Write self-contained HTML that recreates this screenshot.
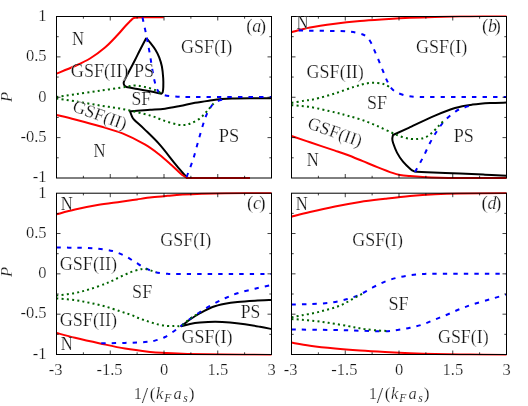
<!DOCTYPE html>
<html><head><meta charset="utf-8"><title>Phase diagram</title>
<style>
html,body{margin:0;padding:0;background:#fff;}
body{width:528px;height:406px;overflow:hidden;font-family:"Liberation Serif",serif;}
svg{display:block;position:absolute;left:0;top:0;}
svg.tx{will-change:transform;}
text{font-family:"Liberation Serif",serif;fill:#141414;stroke:#fff;stroke-width:0.22px;}
</style></head><body>
<svg width="528" height="406" viewBox="0 0 528 406">
<rect width="528" height="406" fill="#fff"/>
<clipPath id="c0"><rect x="56.0" y="15.50" width="216.0" height="163.50"/></clipPath>
<clipPath id="c1"><rect x="291.0" y="15.50" width="216.0" height="163.50"/></clipPath>
<clipPath id="c2"><rect x="56.0" y="192.20" width="216.0" height="163.30"/></clipPath>
<clipPath id="c3"><rect x="291.0" y="192.20" width="216.0" height="163.30"/></clipPath>
<path d="M146.25,38.00 C145.21,40.00 141.88,46.33 140.00,50.00 C138.12,53.67 136.83,56.42 135.00,60.00 C133.17,63.58 130.60,68.42 129.00,71.50 C127.40,74.58 126.28,76.67 125.40,78.50 C124.52,80.33 123.88,81.37 123.70,82.50 C123.52,83.63 123.82,84.55 124.30,85.30 C124.78,86.05 125.48,86.58 126.60,87.00 C127.72,87.42 129.18,87.48 131.00,87.80 C132.82,88.12 134.33,88.32 137.50,88.90 C140.67,89.48 146.05,90.50 150.00,91.30 C153.95,92.10 159.33,93.30 161.20,93.70 C161.45,93.45 162.35,93.32 162.70,92.20 C163.05,91.08 163.22,89.37 163.30,87.00 C163.38,84.63 163.43,81.42 163.20,78.00 C162.97,74.58 162.57,69.95 161.90,66.50 C161.23,63.05 160.28,60.10 159.20,57.30 C158.12,54.50 156.83,52.05 155.40,49.70 C153.97,47.35 152.12,45.15 150.60,43.20 C149.07,41.25 146.97,38.87 146.25,38.00" fill="none" stroke="#000000" stroke-width="2" stroke-linejoin="round" clip-path="url(#c0)"/>
<path d="M271.50,98.20 C267.92,98.20 256.58,98.17 250.00,98.20 C243.42,98.23 236.67,98.27 232.00,98.40 C227.33,98.53 225.67,98.65 222.00,99.00 C218.33,99.35 214.50,99.87 210.00,100.50 C205.50,101.13 200.00,101.88 195.00,102.80 C190.00,103.72 185.00,105.02 180.00,106.00 C175.00,106.98 170.00,108.07 165.00,108.70 C160.00,109.33 154.67,109.47 150.00,109.80 C145.33,110.13 140.33,110.45 137.00,110.70 C133.67,110.95 131.17,111.20 130.00,111.30 C130.33,112.17 131.27,115.05 132.00,116.50 C132.73,117.95 132.27,117.82 134.40,120.00 C136.53,122.18 140.62,125.53 144.80,129.60 C148.98,133.67 154.58,138.87 159.50,144.40 C164.42,149.93 170.55,158.20 174.30,162.80 C178.05,167.40 179.97,169.63 182.00,172.00 C184.03,174.37 185.75,176.17 186.50,177.00" fill="none" stroke="#000000" stroke-width="2" stroke-linejoin="round" clip-path="url(#c0)"/>
<path d="M506.50,102.60 C503.75,102.67 495.67,102.67 490.00,103.00 C484.33,103.33 478.33,103.77 472.50,104.60 C466.67,105.43 461.25,106.17 455.00,108.00 C448.75,109.83 442.50,112.40 435.00,115.60 C427.50,118.80 417.00,123.97 410.00,127.20 C403.00,130.43 395.83,133.70 393.00,135.00 C392.88,135.67 392.27,137.63 392.30,139.00 C392.33,140.37 392.42,140.93 393.20,143.20 C393.98,145.47 395.37,149.52 397.00,152.60 C398.63,155.68 400.73,158.93 403.00,161.70 C405.27,164.47 408.70,167.57 410.60,169.20 C412.50,170.83 413.77,171.12 414.40,171.50 C416.50,171.63 419.40,171.95 427.00,172.30 C434.60,172.65 450.33,173.20 460.00,173.60 C469.67,174.00 477.25,174.35 485.00,174.70 C492.75,175.05 502.92,175.53 506.50,175.70" fill="none" stroke="#000000" stroke-width="2" stroke-linejoin="round" clip-path="url(#c1)"/>
<path d="M271.50,300.00 C268.75,300.12 260.67,300.42 255.00,300.75 C249.33,301.08 242.50,301.50 237.50,302.00 C232.50,302.50 229.17,302.92 225.00,303.75 C220.83,304.58 216.67,305.42 212.50,307.00 C208.33,308.58 203.75,311.17 200.00,313.25 C196.25,315.33 193.12,317.33 190.00,319.50 C186.88,321.67 182.71,325.12 181.25,326.25 C182.71,325.88 186.88,324.61 190.00,324.00 C193.12,323.39 195.83,322.97 200.00,322.60 C204.17,322.23 210.00,321.82 215.00,321.80 C220.00,321.78 225.00,322.08 230.00,322.50 C235.00,322.92 240.00,323.58 245.00,324.30 C250.00,325.02 255.58,326.02 260.00,326.80 C264.42,327.58 269.58,328.63 271.50,329.00" fill="none" stroke="#000000" stroke-width="2" stroke-linejoin="round" clip-path="url(#c2)"/>
<path d="M56.50,73.60 C59.58,72.33 69.42,68.52 75.00,66.00 C80.58,63.48 85.00,61.58 90.00,58.50 C95.00,55.42 100.42,51.42 105.00,47.50 C109.58,43.58 114.17,38.50 117.50,35.00 C120.83,31.50 122.83,28.87 125.00,26.50 C127.17,24.13 129.58,21.75 130.50,20.80 C131.00,20.37 132.33,18.77 133.50,18.20 C134.67,17.63 135.58,17.57 137.50,17.40 C139.42,17.23 140.62,17.23 145.00,17.20 C149.38,17.17 160.62,17.20 163.75,17.20" fill="none" stroke="#ff0000" stroke-width="2" stroke-linejoin="round" clip-path="url(#c0)"/>
<path d="M56.50,115.00 C59.58,115.75 67.75,117.62 75.00,119.50 C82.25,121.38 92.08,123.93 100.00,126.25 C107.92,128.57 115.03,130.38 122.50,133.40 C129.97,136.43 138.63,140.85 144.80,144.40 C150.97,147.95 155.07,151.27 159.50,154.70 C163.93,158.13 167.95,161.92 171.40,165.00 C174.85,168.08 178.00,171.27 180.20,173.20 C182.40,175.13 183.87,176.03 184.60,176.60 C185.17,176.80 186.77,177.57 188.00,177.80 C189.23,178.03 181.67,177.97 192.00,178.00 C202.33,178.03 240.33,178.00 250.00,178.00" fill="none" stroke="#ff0000" stroke-width="2" stroke-linejoin="round" clip-path="url(#c0)"/>
<path d="M291.50,32.20 C294.58,31.42 302.75,28.91 310.00,27.50 C317.25,26.09 326.67,24.82 335.00,23.75 C343.33,22.68 351.67,21.84 360.00,21.10 C368.33,20.36 376.67,19.85 385.00,19.30 C393.33,18.75 401.67,18.20 410.00,17.80 C418.33,17.40 425.00,17.17 435.00,16.90 C445.00,16.63 458.08,16.37 470.00,16.20 C481.92,16.03 500.42,15.95 506.50,15.90" fill="none" stroke="#ff0000" stroke-width="2" stroke-linejoin="round" clip-path="url(#c1)"/>
<path d="M291.50,136.00 C294.58,137.05 302.75,139.87 310.00,142.30 C317.25,144.73 328.83,148.52 335.00,150.60 C341.17,152.68 342.47,153.08 347.00,154.80 C351.53,156.52 357.15,158.85 362.20,160.90 C367.25,162.95 372.25,165.10 377.30,167.10 C382.35,169.10 388.72,171.60 392.50,172.90 C396.28,174.20 397.08,174.37 400.00,174.90 C402.92,175.43 406.25,175.73 410.00,176.10 C413.75,176.47 417.50,176.82 422.50,177.10 C427.50,177.38 433.75,177.65 440.00,177.80 C446.25,177.95 448.92,177.97 460.00,178.00 C471.08,178.03 498.75,178.00 506.50,178.00" fill="none" stroke="#ff0000" stroke-width="2" stroke-linejoin="round" clip-path="url(#c1)"/>
<path d="M56.50,214.40 C59.58,213.60 68.17,211.15 75.00,209.60 C81.83,208.05 89.83,206.40 97.50,205.10 C105.17,203.80 114.42,202.75 121.00,201.80 C127.58,200.85 131.83,200.15 137.00,199.40 C142.17,198.65 146.92,197.90 152.00,197.30 C157.08,196.70 162.40,196.25 167.50,195.80 C172.60,195.35 176.85,194.95 182.60,194.60 C188.35,194.25 194.93,193.93 202.00,193.70 C209.07,193.47 213.42,193.32 225.00,193.20 C236.58,193.08 263.75,193.03 271.50,193.00" fill="none" stroke="#ff0000" stroke-width="2" stroke-linejoin="round" clip-path="url(#c2)"/>
<path d="M56.50,333.00 C59.58,333.79 67.75,336.02 75.00,337.75 C82.25,339.48 91.67,341.59 100.00,343.40 C108.33,345.21 116.67,347.18 125.00,348.60 C133.33,350.02 143.33,351.17 150.00,351.90 C156.67,352.63 158.75,352.65 165.00,353.00 C171.25,353.35 177.50,353.73 187.50,354.00 C197.50,354.27 211.00,354.45 225.00,354.60 C239.00,354.75 263.75,354.85 271.50,354.90" fill="none" stroke="#ff0000" stroke-width="2" stroke-linejoin="round" clip-path="url(#c2)"/>
<path d="M291.50,216.70 C294.58,215.92 302.75,213.70 310.00,212.00 C317.25,210.30 326.67,208.17 335.00,206.50 C343.33,204.83 351.67,203.28 360.00,202.00 C368.33,200.72 376.67,199.80 385.00,198.80 C393.33,197.80 401.67,196.77 410.00,196.00 C418.33,195.23 426.67,194.63 435.00,194.20 C443.33,193.77 448.08,193.60 460.00,193.40 C471.92,193.20 498.75,193.07 506.50,193.00" fill="none" stroke="#ff0000" stroke-width="2" stroke-linejoin="round" clip-path="url(#c3)"/>
<path d="M291.50,342.60 C294.58,343.12 302.75,344.72 310.00,345.70 C317.25,346.68 326.67,347.70 335.00,348.50 C343.33,349.30 351.67,349.92 360.00,350.50 C368.33,351.08 376.67,351.55 385.00,352.00 C393.33,352.45 401.67,352.87 410.00,353.20 C418.33,353.53 425.00,353.77 435.00,354.00 C445.00,354.23 458.08,354.45 470.00,354.60 C481.92,354.75 500.42,354.85 506.50,354.90" fill="none" stroke="#ff0000" stroke-width="2" stroke-linejoin="round" clip-path="url(#c3)"/>
<path d="M142.50,17.50 C143.12,20.42 145.00,28.75 146.25,35.00 C147.50,41.25 148.75,47.92 150.00,55.00 C151.25,62.08 152.50,71.67 153.75,77.50 C155.00,83.33 156.04,87.17 157.50,90.00 C158.96,92.83 159.58,93.42 162.50,94.50 C165.42,95.58 168.75,96.08 175.00,96.50 C181.25,96.92 183.92,96.92 200.00,97.00 C216.08,97.08 259.58,97.00 271.50,97.00" fill="none" stroke="#0000ff" stroke-width="2" stroke-linejoin="round" stroke-dasharray="4.4 6.05" clip-path="url(#c0)"/>
<path d="M186.60,177.00 C187.65,174.17 191.02,165.75 192.90,160.00 C194.78,154.25 196.22,148.38 197.90,142.50 C199.58,136.62 201.52,129.43 203.00,124.70 C204.48,119.97 205.53,117.00 206.80,114.10 C208.07,111.20 209.47,109.07 210.60,107.30 C211.73,105.53 212.33,104.57 213.60,103.50 C214.87,102.43 216.72,101.57 218.20,100.90 C219.68,100.23 221.78,99.73 222.50,99.50" fill="none" stroke="#0000ff" stroke-width="2" stroke-linejoin="round" stroke-dasharray="4.4 6.05" clip-path="url(#c0)"/>
<path d="M298.75,30.50 C302.29,30.55 311.88,30.65 320.00,30.80 C328.12,30.95 340.83,30.92 347.50,31.40 C354.17,31.88 356.92,32.88 360.00,33.70 C363.08,34.52 364.25,34.95 366.00,36.30 C367.75,37.65 369.12,39.50 370.50,41.80 C371.88,44.10 372.92,46.95 374.30,50.10 C375.68,53.25 377.28,57.05 378.80,60.70 C380.32,64.35 382.00,68.60 383.40,72.00 C384.80,75.40 385.82,78.32 387.20,81.10 C388.58,83.88 389.98,86.75 391.70,88.70 C393.42,90.65 394.87,91.60 397.50,92.80 C400.13,94.00 403.75,95.22 407.50,95.90 C411.25,96.58 412.92,96.72 420.00,96.90 C427.08,97.08 435.58,96.98 450.00,97.00 C464.42,97.02 497.08,97.00 506.50,97.00" fill="none" stroke="#0000ff" stroke-width="2" stroke-linejoin="round" stroke-dasharray="4.4 6.05" clip-path="url(#c1)"/>
<path d="M415.00,172.00 C416.33,169.58 420.47,162.42 423.00,157.50 C425.53,152.58 427.78,147.03 430.20,142.50 C432.62,137.97 435.03,134.00 437.50,130.30 C439.97,126.60 441.95,123.47 445.00,120.30 C448.05,117.13 452.47,113.47 455.80,111.30 C459.13,109.13 461.97,108.38 465.00,107.30 C468.03,106.22 472.50,105.22 474.00,104.80" fill="none" stroke="#0000ff" stroke-width="2" stroke-linejoin="round" stroke-dasharray="4.4 6.05" clip-path="url(#c1)"/>
<path d="M56.50,247.50 C59.58,247.54 68.58,247.60 75.00,247.75 C81.42,247.90 88.75,247.86 95.00,248.40 C101.25,248.94 107.50,249.73 112.50,251.00 C117.50,252.27 121.25,254.17 125.00,256.00 C128.75,257.83 131.67,260.00 135.00,262.00 C138.33,264.00 141.67,266.33 145.00,268.00 C148.33,269.67 151.25,271.04 155.00,272.00 C158.75,272.96 163.33,273.42 167.50,273.75 C171.67,274.08 162.67,273.96 180.00,274.00 C197.33,274.04 256.25,274.00 271.50,274.00" fill="none" stroke="#0000ff" stroke-width="2" stroke-linejoin="round" stroke-dasharray="4.4 6.05" clip-path="url(#c2)"/>
<path d="M101.25,343.25 C105.21,343.19 117.71,343.11 125.00,342.90 C132.29,342.69 140.00,342.38 145.00,342.00 C150.00,341.62 151.67,341.43 155.00,340.60 C158.33,339.77 161.67,338.68 165.00,337.00 C168.33,335.32 172.29,332.38 175.00,330.50 C177.71,328.62 178.72,327.70 181.25,325.75 C183.78,323.80 187.07,321.09 190.20,318.80 C193.32,316.51 196.28,314.38 200.00,312.00 C203.72,309.62 208.33,306.79 212.50,304.50 C216.67,302.21 220.83,300.12 225.00,298.25 C229.17,296.38 232.50,294.84 237.50,293.25 C242.50,291.66 249.33,290.07 255.00,288.70 C260.67,287.32 268.75,285.62 271.50,285.00" fill="none" stroke="#0000ff" stroke-width="2" stroke-linejoin="round" stroke-dasharray="4.4 6.05" clip-path="url(#c2)"/>
<path d="M291.50,304.50 C294.58,304.42 303.58,304.29 310.00,304.00 C316.42,303.71 323.75,303.58 330.00,302.75 C336.25,301.92 342.50,300.38 347.50,299.00 C352.50,297.62 355.83,296.40 360.00,294.50 C364.17,292.60 368.33,289.75 372.50,287.60 C376.67,285.45 380.83,283.27 385.00,281.60 C389.17,279.93 393.33,278.65 397.50,277.60 C401.67,276.55 405.83,275.88 410.00,275.30 C414.17,274.72 418.33,274.36 422.50,274.10 C426.67,273.84 421.00,273.81 435.00,273.75 C449.00,273.69 494.58,273.75 506.50,273.75" fill="none" stroke="#0000ff" stroke-width="2" stroke-linejoin="round" stroke-dasharray="4.4 6.05" clip-path="url(#c3)"/>
<path d="M291.50,329.50 C298.75,329.58 323.58,329.79 335.00,330.00 C346.42,330.21 351.67,330.54 360.00,330.75 C368.33,330.96 378.75,331.38 385.00,331.25 C391.25,331.12 393.33,330.58 397.50,330.00 C401.67,329.42 405.83,328.67 410.00,327.75 C414.17,326.83 418.33,325.88 422.50,324.50 C426.67,323.12 430.83,321.17 435.00,319.50 C439.17,317.83 443.33,316.25 447.50,314.50 C451.67,312.75 455.83,310.67 460.00,309.00 C464.17,307.33 467.50,306.12 472.50,304.50 C477.50,302.88 484.33,300.97 490.00,299.30 C495.67,297.63 503.75,295.30 506.50,294.50" fill="none" stroke="#0000ff" stroke-width="2" stroke-linejoin="round" stroke-dasharray="4.4 6.05" clip-path="url(#c3)"/>
<path d="M56.50,97.00 C59.58,96.55 67.75,95.35 75.00,94.30 C82.25,93.25 91.67,91.92 100.00,90.70 C108.33,89.48 119.17,87.87 125.00,87.00 C130.83,86.13 131.67,85.50 135.00,85.50 C138.33,85.50 141.67,86.25 145.00,87.00 C148.33,87.75 152.33,88.95 155.00,90.00 C157.67,91.05 160.00,92.75 161.00,93.30" fill="none" stroke="#006400" stroke-width="2" stroke-linejoin="round" stroke-dasharray="2 3.2" clip-path="url(#c0)"/>
<path d="M56.50,98.50 C59.58,98.96 67.75,100.08 75.00,101.25 C82.25,102.42 91.67,104.12 100.00,105.50 C108.33,106.88 116.67,107.83 125.00,109.50 C133.33,111.17 143.33,113.58 150.00,115.50 C156.67,117.42 160.42,119.50 165.00,121.00 C169.58,122.50 174.17,123.85 177.50,124.50 C180.83,125.15 182.75,125.12 185.00,124.90 C187.25,124.68 188.75,124.12 191.00,123.20 C193.25,122.28 196.25,120.92 198.50,119.40 C200.75,117.88 202.75,115.87 204.50,114.10 C206.25,112.33 207.48,110.57 209.00,108.80 C210.52,107.03 212.83,104.38 213.60,103.50" fill="none" stroke="#006400" stroke-width="2" stroke-linejoin="round" stroke-dasharray="2 3.2" clip-path="url(#c0)"/>
<path d="M291.50,102.90 C293.67,102.53 300.58,101.35 304.50,100.70 C308.42,100.05 309.92,100.22 315.00,99.00 C320.08,97.78 328.42,95.45 335.00,93.40 C341.58,91.35 349.08,88.38 354.50,86.70 C359.92,85.02 363.67,83.92 367.50,83.30 C371.33,82.68 374.58,82.78 377.50,83.00 C380.42,83.22 382.72,83.75 385.00,84.60 C387.28,85.45 390.17,87.52 391.20,88.10" fill="none" stroke="#006400" stroke-width="2" stroke-linejoin="round" stroke-dasharray="2 3.2" clip-path="url(#c1)"/>
<path d="M291.50,105.20 C294.58,105.50 302.75,105.80 310.00,107.00 C317.25,108.20 328.73,110.95 335.00,112.40 C341.27,113.85 343.07,114.43 347.60,115.70 C352.13,116.97 357.25,118.28 362.20,120.00 C367.15,121.72 372.25,123.83 377.30,126.00 C382.35,128.17 388.47,131.22 392.50,133.00 C396.53,134.78 398.48,135.72 401.50,136.70 C404.52,137.68 407.82,138.53 410.60,138.90 C413.38,139.27 415.72,139.15 418.20,138.90 C420.68,138.65 423.03,138.58 425.50,137.40 C427.97,136.22 430.70,133.82 433.00,131.80 C435.30,129.78 437.63,127.02 439.30,125.30 C440.97,123.58 442.38,122.13 443.00,121.50" fill="none" stroke="#006400" stroke-width="2" stroke-linejoin="round" stroke-dasharray="2 3.2" clip-path="url(#c1)"/>
<path d="M56.50,295.60 C59.58,295.17 69.42,294.08 75.00,293.00 C80.58,291.92 85.00,290.62 90.00,289.10 C95.00,287.58 101.33,285.27 105.00,283.90 C108.67,282.53 109.33,282.13 112.00,280.90 C114.67,279.67 117.97,277.92 121.00,276.50 C124.03,275.08 127.15,273.55 130.20,272.40 C133.25,271.25 136.78,270.18 139.30,269.60 C141.82,269.02 143.28,268.73 145.30,268.90 C147.32,269.07 149.62,270.05 151.40,270.60 C153.18,271.15 155.23,271.93 156.00,272.20" fill="none" stroke="#006400" stroke-width="2" stroke-linejoin="round" stroke-dasharray="2 3.2" clip-path="url(#c2)"/>
<path d="M56.50,298.40 C59.58,298.70 69.42,299.45 75.00,300.20 C80.58,300.95 85.00,301.87 90.00,302.90 C95.00,303.93 99.97,305.00 105.00,306.40 C110.03,307.80 115.87,309.88 120.20,311.30 C124.53,312.72 127.67,313.67 131.00,314.90 C134.33,316.13 137.15,317.55 140.20,318.70 C143.25,319.85 146.27,320.83 149.30,321.80 C152.33,322.77 155.37,323.80 158.40,324.50 C161.43,325.20 164.73,325.77 167.50,326.00 C170.27,326.23 172.71,325.97 175.00,325.90 C177.29,325.83 178.75,326.78 181.25,325.60 C183.75,324.42 186.88,320.97 190.00,318.80 C193.12,316.63 198.33,313.63 200.00,312.60" fill="none" stroke="#006400" stroke-width="2" stroke-linejoin="round" stroke-dasharray="2 3.2" clip-path="url(#c2)"/>
<path d="M291.50,317.30 C293.28,316.95 298.40,315.92 302.20,315.20 C306.00,314.48 310.52,313.82 314.30,313.00 C318.08,312.18 321.37,311.25 324.90,310.30 C328.43,309.35 332.22,308.43 335.50,307.30 C338.78,306.17 341.57,305.00 344.60,303.50 C347.63,302.00 350.67,299.95 353.70,298.30 C356.73,296.65 361.28,294.38 362.80,293.60" fill="none" stroke="#006400" stroke-width="2" stroke-linejoin="round" stroke-dasharray="2 3.2" clip-path="url(#c3)"/>
<path d="M291.50,319.00 C293.28,319.13 298.40,319.48 302.20,319.80 C306.00,320.12 310.52,320.48 314.30,320.90 C318.08,321.32 321.37,321.80 324.90,322.30 C328.43,322.80 331.72,323.28 335.50,323.90 C339.28,324.52 344.07,325.37 347.60,326.00 C351.13,326.63 353.67,327.17 356.70,327.70 C359.73,328.23 362.25,328.73 365.80,329.20 C369.35,329.67 374.30,330.20 378.00,330.50 C381.70,330.80 386.33,330.92 388.00,331.00" fill="none" stroke="#006400" stroke-width="2" stroke-linejoin="round" stroke-dasharray="2 3.2" clip-path="url(#c3)"/>
<rect x="56.5" y="16.5" width="215.0" height="161.5" fill="none" stroke="#000" stroke-width="1"/>
<path d="M83.38,16.5 v2.2 M83.38,178.0 v-2.2 M110.25,16.5 v4 M110.25,178.0 v-4 M137.12,16.5 v2.2 M137.12,178.0 v-2.2 M164.00,16.5 v4 M164.00,178.0 v-4 M190.88,16.5 v2.2 M190.88,178.0 v-2.2 M217.75,16.5 v4 M217.75,178.0 v-4 M244.62,16.5 v2.2 M244.62,178.0 v-2.2 M56.5,36.69 h2.2 M271.5,36.69 h-2.2 M56.5,56.88 h4 M271.5,56.88 h-4 M56.5,77.06 h2.2 M271.5,77.06 h-2.2 M56.5,97.25 h4 M271.5,97.25 h-4 M56.5,117.44 h2.2 M271.5,117.44 h-2.2 M56.5,137.62 h4 M271.5,137.62 h-4 M56.5,157.81 h2.2 M271.5,157.81 h-2.2" stroke="#000" stroke-width="0.75" fill="none"/>
<rect x="291.5" y="16.5" width="215.0" height="161.5" fill="none" stroke="#000" stroke-width="1"/>
<path d="M318.38,16.5 v2.2 M318.38,178.0 v-2.2 M345.25,16.5 v4 M345.25,178.0 v-4 M372.12,16.5 v2.2 M372.12,178.0 v-2.2 M399.00,16.5 v4 M399.00,178.0 v-4 M425.88,16.5 v2.2 M425.88,178.0 v-2.2 M452.75,16.5 v4 M452.75,178.0 v-4 M479.62,16.5 v2.2 M479.62,178.0 v-2.2 M291.5,36.69 h2.2 M506.5,36.69 h-2.2 M291.5,56.88 h4 M506.5,56.88 h-4 M291.5,77.06 h2.2 M506.5,77.06 h-2.2 M291.5,97.25 h4 M506.5,97.25 h-4 M291.5,117.44 h2.2 M506.5,117.44 h-2.2 M291.5,137.62 h4 M506.5,137.62 h-4 M291.5,157.81 h2.2 M506.5,157.81 h-2.2" stroke="#000" stroke-width="0.75" fill="none"/>
<rect x="56.5" y="193.2" width="215.0" height="161.3" fill="none" stroke="#000" stroke-width="1"/>
<path d="M83.38,193.2 v2.2 M83.38,354.5 v-2.2 M110.25,193.2 v4 M110.25,354.5 v-4 M137.12,193.2 v2.2 M137.12,354.5 v-2.2 M164.00,193.2 v4 M164.00,354.5 v-4 M190.88,193.2 v2.2 M190.88,354.5 v-2.2 M217.75,193.2 v4 M217.75,354.5 v-4 M244.62,193.2 v2.2 M244.62,354.5 v-2.2 M56.5,213.36 h2.2 M271.5,213.36 h-2.2 M56.5,233.52 h4 M271.5,233.52 h-4 M56.5,253.69 h2.2 M271.5,253.69 h-2.2 M56.5,273.85 h4 M271.5,273.85 h-4 M56.5,294.01 h2.2 M271.5,294.01 h-2.2 M56.5,314.18 h4 M271.5,314.18 h-4 M56.5,334.34 h2.2 M271.5,334.34 h-2.2" stroke="#000" stroke-width="0.75" fill="none"/>
<rect x="291.5" y="193.2" width="215.0" height="161.3" fill="none" stroke="#000" stroke-width="1"/>
<path d="M318.38,193.2 v2.2 M318.38,354.5 v-2.2 M345.25,193.2 v4 M345.25,354.5 v-4 M372.12,193.2 v2.2 M372.12,354.5 v-2.2 M399.00,193.2 v4 M399.00,354.5 v-4 M425.88,193.2 v2.2 M425.88,354.5 v-2.2 M452.75,193.2 v4 M452.75,354.5 v-4 M479.62,193.2 v2.2 M479.62,354.5 v-2.2 M291.5,213.36 h2.2 M506.5,213.36 h-2.2 M291.5,233.52 h4 M506.5,233.52 h-4 M291.5,253.69 h2.2 M506.5,253.69 h-2.2 M291.5,273.85 h4 M506.5,273.85 h-4 M291.5,294.01 h2.2 M506.5,294.01 h-2.2 M291.5,314.18 h4 M506.5,314.18 h-4 M291.5,334.34 h2.2 M506.5,334.34 h-2.2" stroke="#000" stroke-width="0.75" fill="none"/>
</svg>
<svg class="tx" width="528" height="406" viewBox="0 0 528 406">
<text x="46.6" y="21.1" font-size="16.5" text-anchor="end">1</text>
<text x="46.6" y="61.4" font-size="16.5" text-anchor="end">0.5</text>
<text x="46.6" y="101.6" font-size="16.5" text-anchor="end">0</text>
<text x="46.6" y="141.8" font-size="16.5" text-anchor="end">-0.5</text>
<text x="46.6" y="182.1" font-size="16.5" text-anchor="end">-1</text>
<text x="46.6" y="197.6" font-size="16.5" text-anchor="end">1</text>
<text x="46.6" y="237.8" font-size="16.5" text-anchor="end">0.5</text>
<text x="46.6" y="278.1" font-size="16.5" text-anchor="end">0</text>
<text x="46.6" y="318.4" font-size="16.5" text-anchor="end">-0.5</text>
<text x="46.6" y="358.6" font-size="16.5" text-anchor="end">-1</text>
<text x="55.7" y="375.1" font-size="16.5" text-anchor="middle">-3</text>
<text x="109.5" y="375.1" font-size="16.5" text-anchor="middle">-1.5</text>
<text x="164.2" y="375.1" font-size="16.5" text-anchor="middle">0</text>
<text x="217.9" y="375.1" font-size="16.5" text-anchor="middle">1.5</text>
<text x="271.7" y="375.1" font-size="16.5" text-anchor="middle">3</text>
<text x="290.7" y="375.1" font-size="16.5" text-anchor="middle">-3</text>
<text x="344.4" y="375.1" font-size="16.5" text-anchor="middle">-1.5</text>
<text x="399.2" y="375.1" font-size="16.5" text-anchor="middle">0</text>
<text x="452.9" y="375.1" font-size="16.5" text-anchor="middle">1.5</text>
<text x="506.7" y="375.1" font-size="16.5" text-anchor="middle">3</text>
<text x="11.8" y="97" font-size="16.5" text-anchor="middle" transform="rotate(-90 11.8 97)" font-style="italic">P</text>
<text x="11.8" y="272" font-size="16.5" text-anchor="middle" transform="rotate(-90 11.8 272)" font-style="italic">P</text>
<text font-size="16.5" y="398.9"><tspan x="133.7">1</tspan><tspan x="141.7" y="402.5" font-size="23">/</tspan><tspan x="149.7" y="399.4" font-size="17.3">(</tspan><tspan x="155.9" y="398.9" font-style="italic">k</tspan><tspan x="164.3" y="402.09999999999997" font-size="11.5" font-style="italic" stroke-width="0.1">F</tspan><tspan x="173.6" y="398.9" font-style="italic">a</tspan><tspan x="183.2" y="402.09999999999997" font-size="11.5" font-style="italic" stroke-width="0.1">s</tspan><tspan x="188.7" y="399.4" font-size="17.3">)</tspan></text>
<text font-size="16.5" y="398.9"><tspan x="368.7">1</tspan><tspan x="376.7" y="402.5" font-size="23">/</tspan><tspan x="384.7" y="399.4" font-size="17.3">(</tspan><tspan x="390.9" y="398.9" font-style="italic">k</tspan><tspan x="399.3" y="402.09999999999997" font-size="11.5" font-style="italic" stroke-width="0.1">F</tspan><tspan x="408.6" y="398.9" font-style="italic">a</tspan><tspan x="418.2" y="402.09999999999997" font-size="11.5" font-style="italic" stroke-width="0.1">s</tspan><tspan x="423.7" y="399.4" font-size="17.3">)</tspan></text>
<text y="32.3"><tspan x="246.2" font-size="19">(</tspan><tspan x="252.2" font-size="18" font-style="italic">a</tspan><tspan x="259.8" font-size="19">)</tspan></text>
<text y="32.3"><tspan x="482.0" font-size="19">(</tspan><tspan x="488.0" font-size="18" font-style="italic">b</tspan><tspan x="494.4" font-size="19">)</tspan></text>
<text y="208.9"><tspan x="246.9" font-size="19">(</tspan><tspan x="252.9" font-size="18" font-style="italic">c</tspan><tspan x="259.3" font-size="19">)</tspan></text>
<text y="208.9"><tspan x="481.5" font-size="19">(</tspan><tspan x="487.5" font-size="18" font-style="italic">d</tspan><tspan x="495.1" font-size="19">)</tspan></text>
<text x="72.02" y="44.6" font-size="17.8" textLength="12.06" lengthAdjust="spacingAndGlyphs">N</text>
<text x="70.86" y="77.3" font-size="17.8" textLength="57.34" lengthAdjust="spacingAndGlyphs">GSF(II)</text>
<text x="133.98" y="77.3" font-size="17.8" textLength="20.04" lengthAdjust="spacingAndGlyphs">PS</text>
<text x="181.06" y="53.4" font-size="17.8" textLength="51.13" lengthAdjust="spacingAndGlyphs">GSF(I)</text>
<text x="131.51" y="105.0" font-size="17.8" textLength="19.73" lengthAdjust="spacingAndGlyphs">SF</text>
<text x="71.5" y="110.8" font-size="17.8" transform="rotate(20 71.5 110.8)" textLength="56.3" lengthAdjust="spacingAndGlyphs">GSF(II)</text>
<text x="93.47" y="157.3" font-size="17.8" textLength="12.06" lengthAdjust="spacingAndGlyphs">N</text>
<text x="218.67" y="142.1" font-size="17.8" textLength="20.47" lengthAdjust="spacingAndGlyphs">PS</text>
<text x="296.52" y="28.6" font-size="17.8" textLength="12.06" lengthAdjust="spacingAndGlyphs">N</text>
<text x="306.56" y="77.7" font-size="17.8" textLength="57.13" lengthAdjust="spacingAndGlyphs">GSF(II)</text>
<text x="416.06" y="53.4" font-size="17.8" textLength="51.13" lengthAdjust="spacingAndGlyphs">GSF(I)</text>
<text x="366.99" y="109.1" font-size="17.8" textLength="20.06" lengthAdjust="spacingAndGlyphs">SF</text>
<text x="306.5" y="127.8" font-size="17.8" transform="rotate(20 306.5 127.8)" textLength="56.5" lengthAdjust="spacingAndGlyphs">GSF(II)</text>
<text x="306.72" y="166.0" font-size="17.8" textLength="12.06" lengthAdjust="spacingAndGlyphs">N</text>
<text x="453.78" y="141.9" font-size="17.8" textLength="20.14" lengthAdjust="spacingAndGlyphs">PS</text>
<text x="60.72" y="209.7" font-size="17.8" textLength="12.06" lengthAdjust="spacingAndGlyphs">N</text>
<text x="160.36" y="245.6" font-size="17.8" textLength="50.93" lengthAdjust="spacingAndGlyphs">GSF(I)</text>
<text x="59.66" y="269.8" font-size="17.8" textLength="57.44" lengthAdjust="spacingAndGlyphs">GSF(II)</text>
<text x="132.09" y="297.5" font-size="17.8" textLength="20.17" lengthAdjust="spacingAndGlyphs">SF</text>
<text x="59.66" y="326.4" font-size="17.8" textLength="57.44" lengthAdjust="spacingAndGlyphs">GSF(II)</text>
<text x="60.72" y="350.2" font-size="17.8" textLength="12.06" lengthAdjust="spacingAndGlyphs">N</text>
<text x="240.79" y="318.0" font-size="17.8" textLength="19.6" lengthAdjust="spacingAndGlyphs">PS</text>
<text x="181.46" y="342.8" font-size="17.8" textLength="50.93" lengthAdjust="spacingAndGlyphs">GSF(I)</text>
<text x="295.72" y="209.6" font-size="17.8" textLength="12.06" lengthAdjust="spacingAndGlyphs">N</text>
<text x="352.16" y="245.8" font-size="17.8" textLength="50.93" lengthAdjust="spacingAndGlyphs">GSF(I)</text>
<text x="388.48" y="310.0" font-size="17.8" textLength="20.28" lengthAdjust="spacingAndGlyphs">SF</text>
<text x="437.97" y="342.9" font-size="17.8" textLength="50.72" lengthAdjust="spacingAndGlyphs">GSF(I)</text>
</svg>
</body></html>
